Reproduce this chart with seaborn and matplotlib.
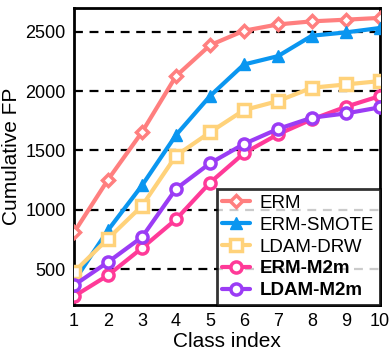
import matplotlib
matplotlib.use("Agg")
import matplotlib.pyplot as plt
import seaborn as sns
import pandas as pd

classes = [1, 2, 3, 4, 5, 6, 7, 8, 9, 10]
erm = [811, 1255, 1655, 2126, 2386, 2508, 2561, 2587, 2601, 2616]
erm_smote = [400, 830, 1206, 1630, 1958, 2224, 2294, 2466, 2494, 2531]
ldam_drw = [478, 758, 1034, 1456, 1653, 1840, 1916, 2028, 2056, 2084]
erm_m2m = [273, 450, 679, 920, 1229, 1477, 1636, 1762, 1868, 1958]
ldam_m2m = [366, 561, 771, 1177, 1392, 1555, 1681, 1776, 1812, 1863]

names = ["ERM", "ERM-SMOTE", "LDAM-DRW", "ERM-M2m", "LDAM-M2m"]
series = [erm, erm_smote, ldam_drw, erm_m2m, ldam_m2m]
colors = ["#FF7F7F", "#0A96F0", "#FFD27A", "#FF3A98", "#9B3CF5"]
markers = ["D", "^", "s", "o", "o"]
faces = ["white", None, "white", "white", "white"]

rows = []
for n, s in zip(names, series):
    for c, v in zip(classes, s):
        rows.append({"cls": c, "fp": v, "method": n})
df = pd.DataFrame(rows)

sns.set_style("white")
plt.rcParams["font.family"] = ["Liberation Sans", "DejaVu Sans"]
plt.rcParams["text.color"] = "black"
plt.rcParams["axes.labelcolor"] = "black"
plt.rcParams["xtick.color"] = "black"
plt.rcParams["ytick.color"] = "black"

fig = plt.figure(figsize=(3.9, 3.6), dpi=100)
ax = fig.add_axes([0.19, 0.153, 0.784, 0.825])

for n, col, m, fc in zip(names, colors, markers, faces):
    sub = df[df["method"] == n]
    sns.lineplot(data=sub, x="cls", y="fp", ax=ax, color=col, lw=3,
                 marker=m, markersize=8 if m != "D" else 6.5,
                 markerfacecolor=fc if fc else col,
                 markeredgecolor=col, markeredgewidth=2.5 if fc else 1,
                 label=n, clip_on=True, zorder=3)

ax.set_xlim(1, 10)
ax.set_ylim(200, 2700)
ax.set_xticks(classes)
ax.set_yticks([500, 1000, 1500, 2000, 2500])
ax.tick_params(labelsize=13, length=0, pad=6, colors="black")
ax.set_xlabel("Class index", fontsize=15, labelpad=1, color="black")
ax.set_ylabel("Cumulative FP", fontsize=15, labelpad=3, color="black")
ax.yaxis.grid(True, linestyle=(0, (4, 3)), color="black", lw=1.6, zorder=0)
ax.set_axisbelow(True)
for sp in ax.spines.values():
    sp.set_color("black")
    sp.set_linewidth(2)

leg = ax.legend(loc="lower right", fontsize=13.5, frameon=True, fancybox=False,
                borderaxespad=0, handlelength=1.5, handletextpad=0.5,
                labelspacing=0.25, borderpad=0.3)
leg.get_frame().set_edgecolor("black")
leg.get_frame().set_linewidth(2)
for t in leg.get_texts():
    t.set_color("black")
    if "M2m" in t.get_text():
        t.set_fontweight("bold")

fig.savefig("out.png", dpi=100)
